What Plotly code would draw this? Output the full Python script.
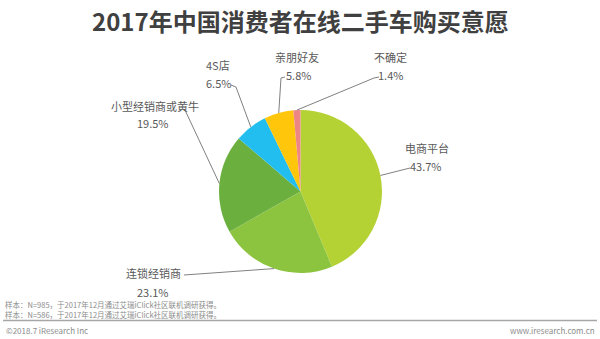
import math
import plotly.graph_objects as go

# ---- data ----
categories = ["电商平台", "连锁经销商", "小型经销商或黄牛", "4S店", "亲朋好友", "不确定"]
values = [43.7, 23.1, 19.5, 6.5, 5.8, 1.4]
colors = ["#B4D234", "#8CC43F", "#6BAF3E", "#22BEF0", "#FFC60B", "#EE8686"]

title = "2017年中国消费者在线二手车购买意愿"
notes = [
    "样本：N=985，于2017年12月通过艾瑞iClick社区联机调研获得。",
    "样本：N=586，于2017年12月通过艾瑞iClick社区联机调研获得。",
]
copyright_text = "©2018.7 iResearch Inc"
site_text = "www.iresearch.com.cn"

# ---- layout / style (pixel space) ----
W, H = 600, 339
CX, CY, R = 300.5, 191.5, 81.5
FONT = "Noto Sans CJK SC, Microsoft YaHei, sans-serif"
LABEL_COLOR = "#595959"
LINE_COLOR = "#808080"

# label name centre, percent centre, leader points (from label towards pie)
label_style = {
    "电商平台": dict(name=(427, 148), pct=(426, 166), pts=[(410, 168)]),
    "连锁经销商": dict(name=(153, 273), pct=(153, 292), pts=[(184, 275)]),
    "小型经销商或黄牛": dict(name=(155, 106), pct=(153, 123), pts=[(185, 110)]),
    "4S店": dict(name=(218, 65), pct=(218, 83), pts=[(231, 85), (236, 87)]),
    "亲朋好友": dict(name=(297, 57), pct=(298, 75), pts=[(285, 77), (281, 78)]),
    "不确定": dict(name=(390, 57), pct=(391, 75), pts=[(379, 77), (374, 78)]),
}


def px(x):
    return x / W


def py(y):
    return 1 - y / H


fig = go.Figure()
fig.add_trace(go.Pie(
    labels=categories,
    values=values,
    sort=False,
    direction="clockwise",
    rotation=0,
    marker=dict(colors=colors, line=dict(width=0)),
    textinfo="none",
    hoverinfo="label+percent",
    showlegend=False,
    domain=dict(x=[px(CX - R), px(CX + R)], y=[py(CY + R), py(CY - R)]),
))

annotations = []
shapes = []
total = sum(values)
cum = 0.0
for cat, v in zip(categories, values):
    mid = (cum + v / 2) / total
    cum += v
    th = 2 * math.pi * mid
    ax = CX + R * math.sin(th)
    ay = CY - R * math.cos(th)
    st = label_style[cat]
    pts = st["pts"] + [(ax, ay)]
    path = "M " + " L ".join(f"{px(x):.5f},{py(y):.5f}" for x, y in pts)
    shapes.append(dict(type="path", xref="paper", yref="paper", path=path,
                       line=dict(color=LINE_COLOR, width=1)))
    annotations.append(dict(x=px(st["name"][0]), y=py(st["name"][1]), xref="paper", yref="paper",
                            text=cat, showarrow=False, xanchor="center", yanchor="middle",
                            font=dict(size=11, color=LABEL_COLOR, family=FONT)))
    annotations.append(dict(x=px(st["pct"][0]), y=py(st["pct"][1]), xref="paper", yref="paper",
                            text=f"{v:.1f}%", showarrow=False, xanchor="center", yanchor="middle",
                            font=dict(size=11, color=LABEL_COLOR, family=FONT)))

# title
annotations.append(dict(x=0.5, y=py(21), xref="paper", yref="paper", text=f"<b>{title}</b>",
                        showarrow=False, xanchor="center", yanchor="middle",
                        font=dict(size=24, color="#404040", family=FONT)))
# notes
for i, t in enumerate(notes):
    annotations.append(dict(x=px(4), y=py(304.5 + 9.5 * i), xref="paper", yref="paper", text=t,
                            showarrow=False, xanchor="left", yanchor="middle", borderpad=0,
                            font=dict(size=7.5, color="#8C8C8C", family=FONT)))
annotations.append(dict(x=px(4), y=py(330), xref="paper", yref="paper", text=copyright_text,
                        showarrow=False, xanchor="left", yanchor="middle",
                        font=dict(size=8, color="#8C8C8C", family=FONT)))
annotations.append(dict(x=px(597), y=py(330), xref="paper", yref="paper", text=site_text,
                        showarrow=False, xanchor="right", yanchor="middle",
                        font=dict(size=8, color="#8C8C8C", family=FONT)))
# separator line
shapes.append(dict(type="line", xref="paper", yref="paper", x0=px(3), x1=px(597),
                   y0=py(320.5), y1=py(320.5), line=dict(color="#A6A6A6", width=1.5)))

fig.update_layout(
    width=W, height=H,
    margin=dict(l=0, r=0, t=0, b=0),
    paper_bgcolor="white",
    plot_bgcolor="white",
    annotations=annotations,
    shapes=shapes,
    font=dict(family=FONT),
)

fig.write_html("out.html")
